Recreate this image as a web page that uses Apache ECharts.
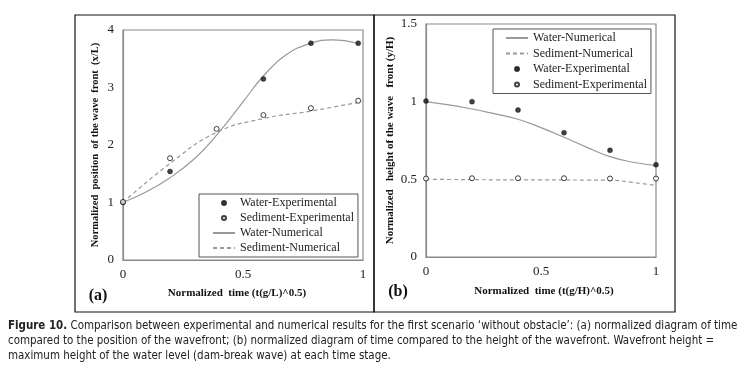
<!DOCTYPE html>
<html>
<head>
<meta charset="utf-8">
<script src="https://cdn.jsdelivr.net/npm/echarts@6/dist/echarts.min.js"></script>
<style>
html, body { margin: 0; padding: 0; background: #fff; }
#box { width: 747px; height: 372px; }
</style>
</head>
<body>
<div id="box"></div>
<script>
// panel (a): position of the wave front
var timeA = [0, 0.196, 0.39, 0.585, 0.783, 0.98];
var waterExpA = [1, 1.54, null, 3.15, 3.77, 3.77];
var sedExpA = [1.01, 1.77, 2.28, 2.52, 2.64, 2.77];
var timeNumA = [0, 0.1, 0.196, 0.3, 0.39, 0.5, 0.585, 0.68, 0.783, 0.87, 0.98];
var waterNumA = [1, 1.19, 1.43, 1.77, 2.17, 2.75, 3.2, 3.57, 3.77, 3.83, 3.77];
var sedNumA = [1, 1.68, 2.22, 2.46, 2.59, 2.74];

// panel (b): height of the wave front
var timeB = [0, 0.2, 0.4, 0.6, 0.8, 1];
var waterExpB = [1.004, 1.0, 0.946, 0.80, 0.687, 0.594];
var sedExpB = [0.505, 0.507, 0.507, 0.507, 0.505, 0.505];
var timeNumB = [0, 0.1, 0.2, 0.3, 0.4, 0.5, 0.6, 0.7, 0.8, 0.9, 1];
var waterNumB = [1, 0.979, 0.953, 0.921, 0.887, 0.833, 0.771, 0.706, 0.646, 0.61, 0.588];
var sedNumB = [0.5, 0.499, 0.498, 0.497, 0.497, 0.496, 0.496, 0.495, 0.494, 0.48, 0.46];

var captionLines = [
    ' Comparison between experimental and numerical results for the first scenario \u2018without obstacle\u2019: (a) normalized diagram of time',
    'compared to the position of the wavefront; (b) normalized diagram of time compared to the height of the wavefront. Wavefront height =',
    'maximum height of the water level (dam-break wave) at each time stage.'
];

function pairs(xs, ys) {
    var out = [];
    for (var i = 0; i < xs.length; i++) {
        if (ys[i] != null) out.push([xs[i], ys[i]]);
    }
    return out;
}

var serif = "'Liberation Serif', 'Times New Roman', serif";
var capFont = "'Liberation Sans Narrow', 'DejaVu Sans Condensed', 'Liberation Sans', sans-serif";

// fit caption font so the first line fills the width
var cv = document.createElement('canvas').getContext('2d');
var capSize = 12;
cv.font = 'bold ' + capSize + 'px ' + capFont;
var w1 = cv.measureText('Figure 10.').width;
cv.font = capSize + 'px ' + capFont;
w1 += cv.measureText(captionLines[0]).width;
capSize = Math.min(14, capSize * 730 / w1);

var dom = document.getElementById('box');
var myChart = echarts.init(dom);

var axisGrey = '#8a8a8a';
var curveGrey = '#999999';

function xAxisOf(idx, name, gap, pad) {
    return {
        gridIndex: idx, type: 'value', min: 0, max: 1, interval: 0.5,
        name: name, nameLocation: 'middle', nameGap: gap,
        nameTextStyle: { fontFamily: serif, fontWeight: 'bold', fontSize: 11, color: '#111', padding: pad },
        axisLine: { show: true, lineStyle: { color: axisGrey, width: 1.2 } },
        axisTick: { show: false },
        splitLine: { show: false },
        axisLabel: { fontFamily: serif, fontSize: 13, color: '#222', margin: 8,
            formatter: function (v) { return String(v); } }
    };
}

function yAxisOf(idx, max, interval, name, gap, size) {
    return {
        gridIndex: idx, type: 'value', min: 0, max: max, interval: interval,
        name: name, nameLocation: 'middle', nameGap: gap,
        nameTextStyle: { fontFamily: serif, fontWeight: 'bold', fontSize: size, color: '#111' },
        axisLine: { show: true, lineStyle: { color: axisGrey, width: 1.2 } },
        axisTick: { show: false },
        splitLine: { show: false },
        axisLabel: { fontFamily: serif, fontSize: 13, color: '#222', margin: 9,
            formatter: function (v) { return String(v); } }
    };
}

function numLine(name, idx, data, dashed) {
    return {
        name: name, type: 'line', xAxisIndex: idx, yAxisIndex: idx,
        data: data, smooth: 0.45, symbol: 'none',
        lineStyle: { color: curveGrey, width: 1.2, type: dashed ? [4, 3] : 'solid' },
        itemStyle: { color: curveGrey },
        z: 2
    };
}

function expDots(name, idx, data, open) {
    return {
        name: name, type: 'scatter', xAxisIndex: idx, yAxisIndex: idx,
        data: data, symbol: 'circle', symbolSize: 5,
        itemStyle: open
            ? { color: '#fff', borderColor: '#111', borderWidth: 1 }
            : { color: '#111', borderColor: '#111', borderWidth: 0.5 },
        z: open ? 4 : 3
    };
}

var legendText = { fontFamily: serif, fontSize: 12, color: '#222' };
function lineItem(name) { return { name: name, itemStyle: { opacity: 0 } }; }

option = {
    animation: false,
    backgroundColor: '#fff',
    grid: [
        { left: 123, top: 30, width: 240, height: 230, show: true, borderColor: axisGrey, borderWidth: 1.2 },
        { left: 426, top: 24, width: 230, height: 233, show: true, borderColor: axisGrey, borderWidth: 1.2 }
    ],
    xAxis: [
        xAxisOf(0, 'Normalized  time (t(g/L)^0.5)', 28, [0, 12, 0, 0]),
        xAxisOf(1, 'Normalized  time (t(g/H)^0.5)', 29, [0, 0, 0, 6])
    ],
    yAxis: [
        yAxisOf(0, 4, 1, 'Normalized  position  of the wave  front  (x/L)', 22, 10.5),
        yAxisOf(1, 1.5, 0.5, 'Normalized   height of the wave   front (y/H)', 30, 11)
    ],
    legend: [
        {
            orient: 'vertical', left: 199, top: 194,
            padding: [3, 4, 3, 13], itemWidth: 22, itemHeight: 4, itemGap: 3,
            borderColor: '#555', borderWidth: 1, backgroundColor: '#fff',
            textStyle: legendText,
            data: ['Water-Experimental', 'Sediment-Experimental', lineItem('Water-Numerical'), lineItem('Sediment-Numerical')]
        },
        {
            orient: 'vertical', left: 493, top: 29,
            padding: [3, 4, 3, 12], itemWidth: 22, itemHeight: 4, itemGap: 3.5,
            borderColor: '#555', borderWidth: 1, backgroundColor: '#fff',
            textStyle: legendText,
            data: [lineItem('Water-Numerical'), lineItem('Sediment-Numerical'), 'Water-Experimental', 'Sediment-Experimental']
        }
    ],
    series: [
        numLine('Water-Numerical', 0, pairs(timeNumA, waterNumA), false),
        numLine('Sediment-Numerical', 0, pairs(timeA, sedNumA), true),
        expDots('Water-Experimental', 0, pairs(timeA, waterExpA), false),
        expDots('Sediment-Experimental', 0, pairs(timeA, sedExpA), true),
        numLine('Water-Numerical', 1, pairs(timeNumB, waterNumB), false),
        numLine('Sediment-Numerical', 1, pairs(timeNumB, sedNumB), true),
        expDots('Water-Experimental', 1, pairs(timeB, waterExpB), false),
        expDots('Sediment-Experimental', 1, pairs(timeB, sedExpB), true)
    ],
    graphic: [
        { type: 'rect', shape: { x: 75, y: 15, width: 299, height: 297 }, silent: true,
          style: { fill: 'none', stroke: '#111', lineWidth: 1.2 } },
        { type: 'rect', shape: { x: 374, y: 15, width: 301, height: 297 }, silent: true,
          style: { fill: 'none', stroke: '#111', lineWidth: 1.2 } },
        { type: 'text', x: 98, y: 296, silent: true,
          style: { text: '(a)', font: 'bold 16px ' + serif, fill: '#111', align: 'center', verticalAlign: 'middle' } },
        { type: 'text', x: 398, y: 292, silent: true,
          style: { text: '(b)', font: 'bold 16px ' + serif, fill: '#111', align: 'center', verticalAlign: 'middle' } },
        { type: 'text', x: 8, y: 326, silent: true,
          style: {
              text: '{b|Figure 10.}{n|' + captionLines[0] + '}',
              verticalAlign: 'middle',
              rich: {
                  b: { font: 'bold ' + capSize + 'px ' + capFont, fill: '#222' },
                  n: { font: capSize + 'px ' + capFont, fill: '#222' }
              }
          } },
        { type: 'text', x: 8, y: 341, silent: true,
          style: { text: captionLines[1], font: capSize + 'px ' + capFont, fill: '#222', verticalAlign: 'middle' } },
        { type: 'text', x: 8, y: 356, silent: true,
          style: { text: captionLines[2], font: capSize + 'px ' + capFont, fill: '#222', verticalAlign: 'middle' } }
    ]
};

if (option && typeof option === "object") {
    myChart.setOption(option, true);
}
</script>
</body>
</html>
